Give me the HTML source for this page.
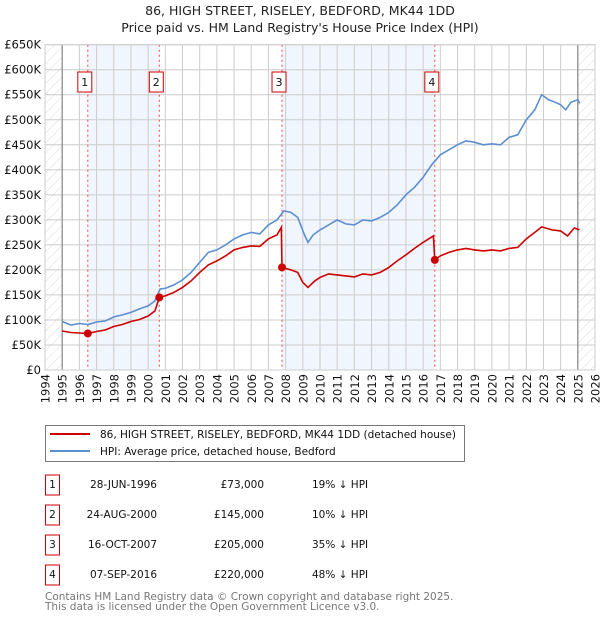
<!DOCTYPE html>
<html><head><meta charset="utf-8"><style>
body{margin:0;background:#fff;font-family:"DejaVu Sans","Liberation Sans",sans-serif;}
svg text{font-family:"DejaVu Sans","Liberation Sans",sans-serif;}
</style></head><body>
<svg id="chart" width="600" height="620" viewBox="0 0 600 620" xmlns="http://www.w3.org/2000/svg">
<defs><pattern id="hatch" width="7" height="7" patternUnits="userSpaceOnUse" patternTransform="rotate(45)"><line x1="0" y1="0" x2="0" y2="7" stroke="#ccc" stroke-width="0.7"/></pattern></defs>
<text x="300" y="15" text-anchor="middle" font-size="12.5" fill="#222">86, HIGH STREET, RISELEY, BEDFORD, MK44 1DD</text>
<text x="300" y="32" text-anchor="middle" font-size="12.5" fill="#222">Price paid vs. HM Land Registry's House Price Index (HPI)</text>
<g id="plot"></g>
<g>
<rect x="45.5" y="425.5" width="419" height="36" fill="#fff" stroke="#777"/>
<line x1="50" y1="434" x2="90" y2="434" stroke="#cc0000" stroke-width="2"/>
<text x="100" y="438" font-size="10.5" fill="#111">86, HIGH STREET, RISELEY, BEDFORD, MK44 1DD (detached house)</text>
<line x1="50" y1="451" x2="90" y2="451" stroke="#5b8fd0" stroke-width="2"/>
<text x="100" y="455" font-size="10.5" fill="#111">HPI: Average price, detached house, Bedford</text>
</g>
<g id="table"></g>
<text x="45" y="600" font-size="10.5" fill="#777">Contains HM Land Registry data © Crown copyright and database right 2025.</text>
<text x="45" y="610" font-size="10.5" fill="#777">This data is licensed under the Open Government Licence v3.0.</text>
</svg>
<script>
const yTicks=[0,50,100,150,200,250,300,350,400,450,500,550,600,650];
const yLabels=["£0","£50K","£100K","£150K","£200K","£250K","£300K","£350K","£400K","£450K","£500K","£550K","£600K","£650K"];
const xYears=[1994,1995,1996,1997,1998,1999,2000,2001,2002,2003,2004,2005,2006,2007,2008,2009,2010,2011,2012,2013,2014,2015,2016,2017,2018,2019,2020,2021,2022,2023,2024,2025,2026];
const hpiT=[1995,1995.5,1996,1996.5,1997,1997.5,1998,1998.5,1999,1999.5,2000,2000.4,2000.7,2001,2001.5,2002,2002.5,2003,2003.5,2004,2004.5,2005,2005.5,2006,2006.5,2007,2007.5,2007.9,2008.3,2008.7,2009.1,2009.3,2009.6,2010,2010.5,2011,2011.5,2012,2012.5,2013,2013.5,2014,2014.5,2015,2015.5,2016,2016.5,2017,2017.5,2018,2018.5,2019,2019.5,2020,2020.5,2021,2021.5,2022,2022.5,2022.9,2023.3,2023.7,2024,2024.3,2024.6,2025,2025.1];
const hpiV=[97,90,93,91,96,98,106,110,115,122,128,138,162,163,170,180,195,215,235,240,250,262,270,275,272,290,300,318,315,305,270,255,270,280,290,300,292,290,300,298,305,315,330,350,365,385,410,430,440,450,458,455,450,452,450,465,470,500,520,550,540,535,530,520,535,540,533];
const propT=[1995,1995.5,1996,1996.49,1997,1997.5,1998,1998.5,1999,1999.5,2000,2000.4,2000.65,2001,2001.5,2002,2002.5,2003,2003.5,2004,2004.5,2005,2005.5,2006,2006.5,2007,2007.5,2007.75,2007.79,2008.3,2008.7,2009,2009.3,2009.7,2010,2010.5,2011,2011.5,2012,2012.5,2013,2013.5,2014,2014.5,2015,2015.5,2016,2016.6,2016.68,2017,2017.5,2018,2018.5,2019,2019.5,2020,2020.5,2021,2021.5,2022,2022.5,2022.9,2023.5,2024,2024.4,2024.8,2025.1];
const propV=[78,75,74,73,77,80,87,91,97,101,108,118,145,148,155,165,178,195,210,218,228,240,245,248,247,262,270,285,205,200,195,175,165,178,185,192,190,188,186,192,190,195,205,218,230,243,255,268,220,228,235,240,243,240,238,240,238,243,245,262,275,286,280,278,268,284,280];
const saleT=[1996.49,2000.65,2007.79,2016.68];
const saleV=[73,145,205,220];
const saleDates=["28-JUN-1996","24-AUG-2000","16-OCT-2007","07-SEP-2016"];
const salePrices=["£73,000","£145,000","£205,000","£220,000"];
const saleHpi=["19% ↓ HPI","10% ↓ HPI","35% ↓ HPI","48% ↓ HPI"];

const NS="http://www.w3.org/2000/svg";
const X0=45,X1=595,Y0=370,Y1=44.7;
const xs=t=>X0+(t-1994)/(2026-1994)*(X1-X0);
const ys=v=>Y0-v/650*(Y0-Y1);
const plot=document.getElementById('plot');
function mk(tag,attrs,parent){const e=document.createElementNS(NS,tag);for(const k in attrs)e.setAttribute(k,attrs[k]);(parent||plot).appendChild(e);return e;}
for(const [a,b] of [[0,1],[2,3]]){
 const r=mk('rect',{x:xs(saleT[a]),y:Y1,width:xs(saleT[b])-xs(saleT[a]),height:Y0-Y1,fill:'#f1f5fd'});
 
 
}
for(const [a,b] of [[1994,1995],[2025,2026]]){
 const r=mk('rect',{x:xs(a),y:Y1,width:xs(b)-xs(a),height:Y0-Y1,fill:'url(#hatch)'});
 
 
}
yTicks.forEach((v,i)=>{
 const l=mk('line',{x1:X0,x2:X1,y1:ys(v),y2:ys(v),stroke:'#ccc','stroke-width':1});
 
 
 const t=mk('text',{x:41,y:ys(v)+4,'text-anchor':'end','font-size':11.5,fill:'#111'});
 t.textContent=yLabels[i];
 
 
});
xYears.forEach(yr=>{
 const l=mk('line',{x1:xs(yr),x2:xs(yr),y1:Y1,y2:Y0,stroke:'#ccc','stroke-width':1});
 
 
 const t=mk('text',{x:0,y:0,'text-anchor':'end','font-size':11.5,fill:'#111',transform:`translate(${xs(yr)+4.5},374) rotate(-90)`});
 t.textContent=yr;
 
 
});
[1995,2025].forEach(yr=>{const l=mk('line',{x1:xs(yr),x2:xs(yr),y1:Y1,y2:Y0,stroke:'#888','stroke-width':1.2});
 
 });
saleT.forEach((t,i)=>{
 const l=mk('line',{x1:xs(t),x2:xs(t),y1:Y1,y2:Y0,stroke:'#e44','stroke-width':1,'stroke-dasharray':'2,3'});
 
 
 const g=mk('g',{});
 
 
 mk('rect',{x:xs(t)-10,y:72,width:14,height:20,fill:'#fff',stroke:'#cc0000','stroke-width':1},g);
 const tx=mk('text',{x:xs(t)-3,y:86,'text-anchor':'middle','font-size':11,fill:'#111'},g);
 tx.textContent=i+1;
});
const path=(T,V)=>T.map((t,i)=>(i?'L':'M')+xs(t).toFixed(1)+','+ys(V[i]).toFixed(1)).join('');
const hp=mk('path',{d:path(hpiT,hpiV),fill:'none',stroke:'#5b8fd0','stroke-width':1.6});


const pp=mk('path',{d:path(propT,propV),fill:'none',stroke:'#cc0000','stroke-width':1.6});


saleT.forEach((t,i)=>{
 const c=mk('circle',{cx:xs(t),cy:ys(saleV[i]),r:4,fill:'#cc0000'});
 
 
});
const ax=mk('rect',{x:X0,y:Y1,width:X1-X0,height:Y0-Y1,fill:'none',stroke:'#ccc'});


const tb=document.getElementById('table');
saleDates.forEach((d,i)=>{
 const y=485+i*30;
 const g=mk('g',{},tb);
 
 
 mk('rect',{x:45.5,y:y-10,width:14,height:20,fill:'#fff',stroke:'#cc0000'},g);
 const a=mk('text',{x:52.5,y:y+3,'text-anchor':'middle','font-size':10.5,fill:'#111'},g);a.textContent=i+1;
 const b=mk('text',{x:157,y:y+3,'text-anchor':'end','font-size':10.5,fill:'#111'},g);b.textContent=d;
 const c=mk('text',{x:264,y:y+3,'text-anchor':'end','font-size':10.5,fill:'#111'},g);c.textContent=salePrices[i];
 const e=mk('text',{x:312,y:y+3,'font-size':10.5,fill:'#111'},g);e.textContent=saleHpi[i];
});
</script>
</body></html>
